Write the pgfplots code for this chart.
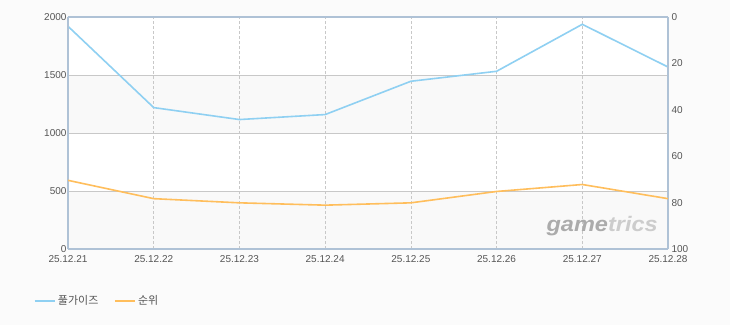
\documentclass[border=0pt]{standalone}
\usepackage{pgfplots}
\pgfplotsset{compat=1.18}
\usepackage{fontspec}
\setmainfont{Liberation Sans}
\newfontfamily\kr{Noto Sans CJK KR}
\definecolor{bgc}{HTML}{FBFBFB}
\definecolor{band}{HTML}{F9F9F9}
\definecolor{gridc}{HTML}{C8C8C8}
\definecolor{axc}{HTML}{AFC2D6}
\definecolor{txt}{HTML}{555555}
\definecolor{blueL}{HTML}{8FD0F2}
\definecolor{oraL}{HTML}{FFBE5C}
\pgfplotstableread{
x v
0 1920
1 1219
2 1116
3 1159
4 1446
5 1532
6 1937
7 1569
}\blue
\pgfplotstableread{
x r
0 70.4
1 78.3
2 80.1
3 81.1
4 80.1
5 75.2
6 72.2
7 78.3
}\orange
\begin{document}
\begin{tikzpicture}[x=1pt,y=1pt]
\fill[bgc] (0,0) rectangle (730,325);
\begin{axis}[
  at={(68pt,76pt)}, anchor=south west,
  scale only axis, width=600pt, height=232pt,
  xmin=0, xmax=7, ymin=0, ymax=2000,
  axis y line*=left, axis x line*=bottom,
  axis on top,
  xtick={0,...,7},
  xticklabels={25.12.21,25.12.22,25.12.23,25.12.24,25.12.25,25.12.26,25.12.27,25.12.28},
  ytick={0,500,1000,1500,2000},
  major tick length=0pt,
  tick label style={font=\fontsize{10}{11}\selectfont, text=txt},
  /pgf/number format/assume math mode=true,
  /pgf/number format/1000 sep={},
  yticklabel style={xshift=2pt},
  xticklabel style={yshift=-3pt},
  axis line style={draw=axc, line width=1.6pt},
  clip=false,
  legend style={at={(-0.063,-0.224)}, anchor=west, draw=none, fill=none,
    font=\kr\fontsize{11}{12}\selectfont, text=txt, legend columns=2,
    /tikz/every even column/.append style={column sep=13pt}},
  legend image code/.code={\draw[#1, line width=2.6pt] (0pt,0pt) -- (20pt,0pt);},
]
\fill[white] (axis cs:0,1500) rectangle (axis cs:7,2000);
\fill[band] (axis cs:0,1000) rectangle (axis cs:7,1500);
\fill[white] (axis cs:0,500) rectangle (axis cs:7,1000);
\fill[band] (axis cs:0,0) rectangle (axis cs:7,500);
\foreach \y in {500,1000,1500} {
  \edef\tmp{\noexpand\draw[gridc, line width=0.8pt] (axis cs:0,\y) -- (axis cs:7,\y);}\tmp
}
\foreach \xx in {1,...,6} {
  \edef\tmp{\noexpand\draw[gridc, dashed, dash pattern=on 3pt off 2pt, line width=0.6pt] (axis cs:\xx,0) -- (axis cs:\xx,2000);}\tmp
}
\node[anchor=base east, font=\bfseries\itshape\fontsize{21}{21}\selectfont, inner sep=0pt, xscale=1.12] at (axis cs:6.883,147) {\textcolor{black!33}{game}\textcolor{black!20}{trics}};
\addplot[blueL, line width=1.6pt, forget plot] table[x=x,y=v] {\blue};
\addlegendimage{blueL}
\addlegendentry{풀가이즈}
\addlegendimage{oraL}
\addlegendentry{순위}
\draw[axc, line width=1.6pt] (axis cs:0,2000) -- (axis cs:7,2000);
\end{axis}
\begin{axis}[
  at={(68pt,76pt)}, anchor=south west,
  scale only axis, width=600pt, height=232pt,
  xmin=0, xmax=7, ymin=0, ymax=100, y dir=reverse,
  axis y line*=right, axis x line=none,
  ytick={0,20,40,60,80,100},
  major tick length=0pt,
  tick label style={font=\fontsize{10}{11}\selectfont, text=txt},
  /pgf/number format/assume math mode=true,
  yticklabel style={xshift=0pt},
  axis line style={draw=axc, line width=1.6pt},
]
\addplot[oraL, line width=1.6pt] table[x=x,y=r] {\orange};
\end{axis}
\end{tikzpicture}
\end{document}
